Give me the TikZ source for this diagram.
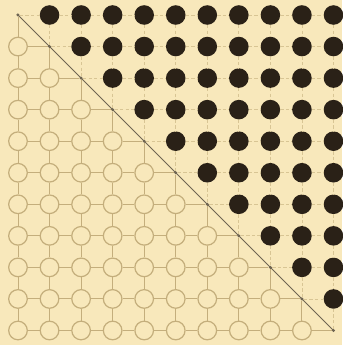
\documentclass[tikz,border=0pt]{standalone}
\usepackage{xcolor}
\usepackage{tikz}
\definecolor{paper}{HTML}{F8E8BB}
\definecolor{ringtan}{HTML}{C4AE7C}
\definecolor{beadblack}{HTML}{2A2117}
\definecolor{faintgrid}{HTML}{D8C594}
\definecolor{diaggray}{HTML}{6F6552}

\begin{document}
\begin{tikzpicture}[
    x=1cm, y=-1cm,
    ring/.style={circle, draw=ringtan, line width=1.1pt, minimum size=5.9mm, inner sep=0pt},
    bead/.style={circle, fill=beadblack, minimum size=6.2mm, inner sep=0pt},
    knot/.style={circle, fill=diaggray, minimum size=1.1mm, inner sep=0pt},
    tanline/.style={draw=ringtan, line width=0.8pt},
    faintline/.style={draw=faintgrid, line width=0.7pt, dash pattern=on 3pt off 2pt}
]
\useasboundingbox (-0.57,-0.475) rectangle (10.27,10.46);
\fill[paper] (-0.57,-0.475) rectangle (10.27,10.46);

% lattice points: open rings below the diagonal, black beads above
\foreach \j in {0,...,10} {
    \foreach \i in {0,...,10} {
        \ifnum\i<\j
            \node[ring] (p-\i-\j) at (\i,\j) {};
        \else\ifnum\i>\j
            \node[bead] (p-\i-\j) at (\i,\j) {};
        \else
            \node[knot] (p-\i-\j) at (\i,\j) {};
        \fi\fi
    }
}

% diagonal
\draw[diaggray, line width=0.7pt] (p-0-0.center) -- (p-10-10.center);

% horizontal links
\foreach \j in {0,...,10} {
    \foreach \i in {0,...,9} {
        \pgfmathtruncatemacro{\k}{\i+1}
        \ifnum\k>\j
            \draw[faintline] (p-\i-\j) -- (p-\k-\j);
        \else
            \draw[tanline] (p-\i-\j) -- (p-\k-\j);
        \fi
    }
}

% vertical links
\foreach \i in {0,...,10} {
    \foreach \j in {0,...,9} {
        \pgfmathtruncatemacro{\k}{\j+1}
        \ifnum\i>\j
            \draw[faintline] (p-\i-\j) -- (p-\i-\k);
        \else
            \draw[tanline] (p-\i-\j) -- (p-\i-\k);
        \fi
    }
}
\end{tikzpicture}
\end{document}
